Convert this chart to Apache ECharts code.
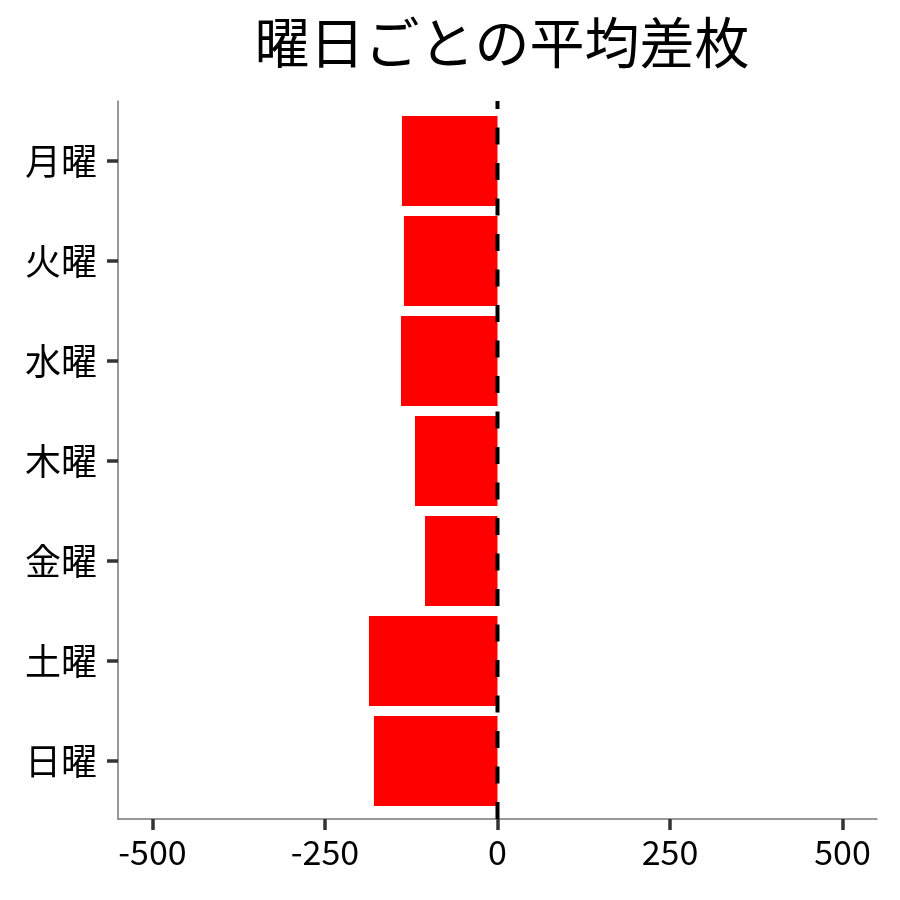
<!DOCTYPE html>
<html>
<head>
<meta charset="utf-8">
<script src="https://cdn.jsdelivr.net/npm/echarts@6/dist/echarts.min.js"></script>
<style>html,body{margin:0;padding:0;background:#fff}#c{width:900px;height:900px}</style>
</head>
<body>
<div id="c"></div>
<script>
var titleText = '曜日ごとの平均差枚';
var categories = ['月曜', '火曜', '水曜', '木曜', '金曜', '土曜', '日曜'];
var values = [-138.5, -135.6, -139.9, -119.6, -105.1, -186.3, -179.1];
var xTicks = [-500, -250, 0, 250, 500];
var refLine = [[0, 0], [0, 1]];

var font = '"Noto Sans CJK JP", "Noto Sans", sans-serif';
var chart = echarts.init(document.getElementById('c'));
chart.setOption({
  animation: false,
  backgroundColor: '#fff',
  title: {
    text: titleText, left: 497, top: 10, textAlign: 'center',
    textStyle: { fontFamily: font, fontSize: 55, fontWeight: 'normal', color: '#000' }
  },
  grid: [
    { left: 118, right: 23, top: 111, height: 700 },
    { left: 118, right: 23, top: 101, bottom: 81 }
  ],
  xAxis: [
    { gridIndex: 0, type: 'value', min: -550, max: 550, show: false },
    { gridIndex: 1, type: 'value', min: -550, max: 550, position: 'bottom',
      axisLine: { show: true, onZero: false, lineStyle: { color: '#777', width: 1.5 } },
      axisTick: { show: true, length: 11, customValues: xTicks, lineStyle: { color: '#333', width: 3.5 } },
      axisLabel: { show: true, customValues: xTicks, margin: 16, color: '#000', fontSize: 34, fontFamily: font },
      splitLine: { show: false }
    }
  ],
  yAxis: [
    { gridIndex: 0, type: 'category', data: categories, inverse: true, position: 'left',
      axisLine: { show: false, onZero: false },
      axisTick: { show: true, length: 11, alignWithLabel: true, lineStyle: { color: '#333', width: 3.5 } },
      axisLabel: { margin: 21, color: '#000', fontSize: 36, fontFamily: font },
      splitLine: { show: false }
    },
    { gridIndex: 1, type: 'value', min: 0, max: 1, position: 'left',
      axisLine: { show: true, onZero: false, lineStyle: { color: '#777', width: 1.5 } },
      axisTick: { show: false }, axisLabel: { show: false }, splitLine: { show: false }
    }
  ],
  series: [
    { type: 'bar', xAxisIndex: 0, yAxisIndex: 0, data: values, barCategoryGap: '10%',
      itemStyle: { color: '#ff0000' }, z: 2 },
    { type: 'line', xAxisIndex: 1, yAxisIndex: 1, data: refLine, symbol: 'none', z: 5,
      lineStyle: { color: '#000', width: 4, type: [17, 18.5] } }
  ]
});
</script>
</body>
</html>
